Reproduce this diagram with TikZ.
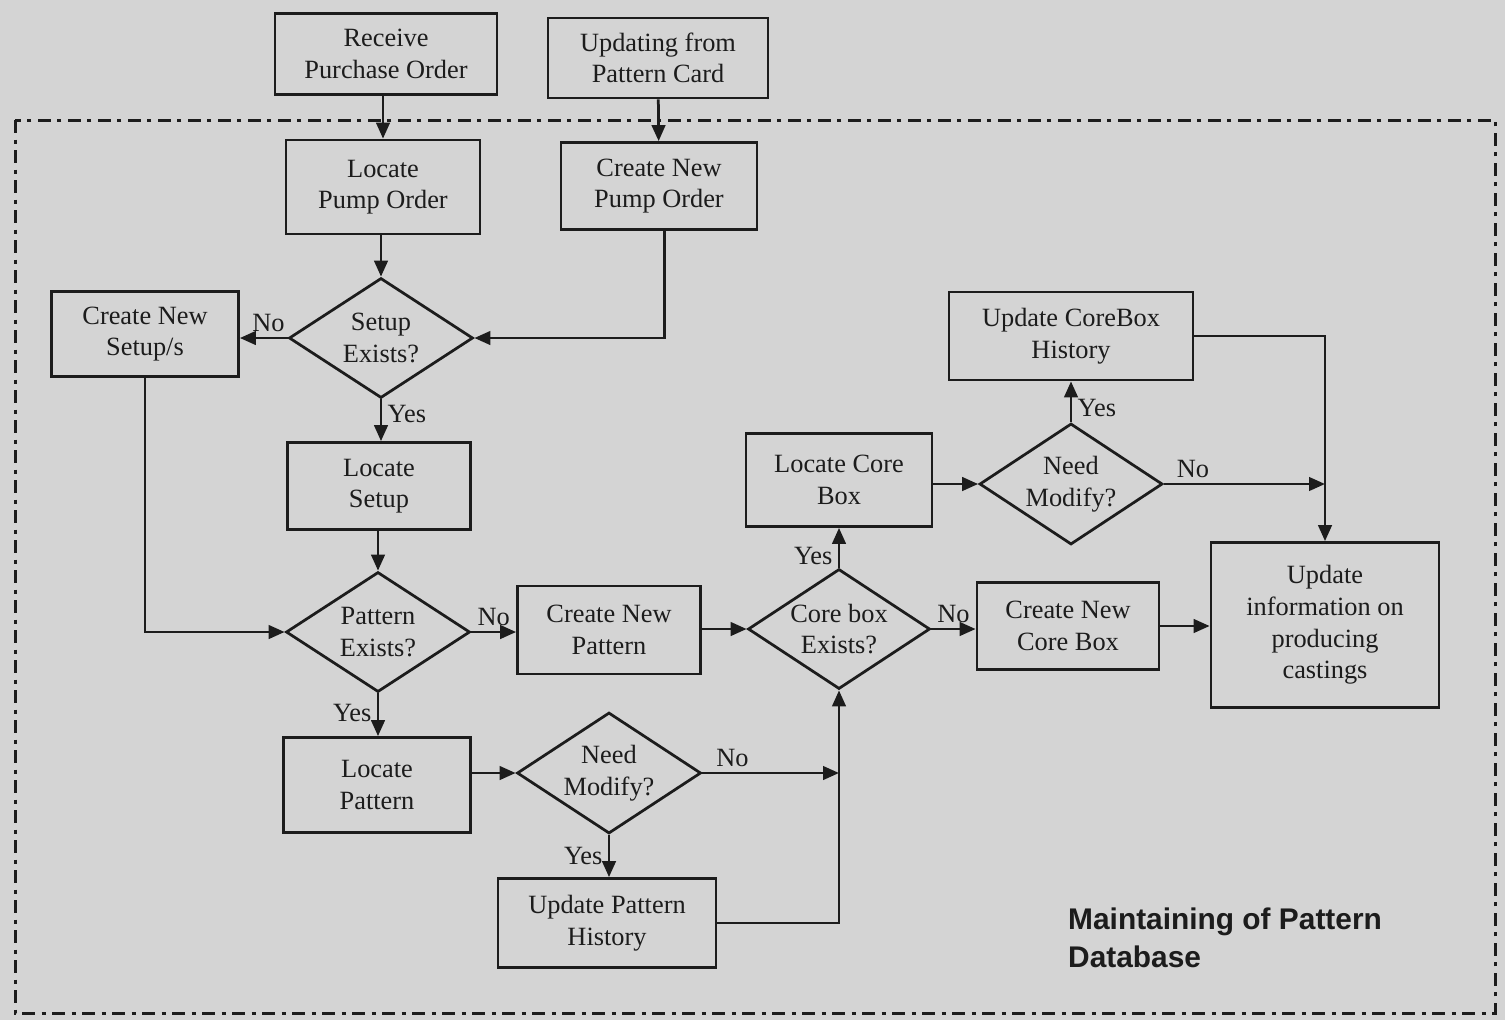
\documentclass[tikz,border=0pt]{standalone}
\usepackage{fontspec}
\setmainfont{Liberation Serif}
\newfontfamily\titlefont{Liberation Sans}
\usetikzlibrary{shapes.geometric,arrows.meta,positioning,calc}

\definecolor{paper}{RGB}{212,212,212}
\definecolor{ink}{RGB}{28,28,28}

\begin{document}
\begin{tikzpicture}[
    x=0.2mm, y=-0.2mm,
    font=\fontsize{15}{18}\selectfont,
    box/.style={rectangle, draw=ink, text=ink, line width=0.55mm, align=center, inner sep=2pt},
    decision/.style={diamond, draw=ink, text=ink, line width=0.55mm, align=center, inner sep=-3pt, shape aspect=1.5},
    arrow/.style={-{Triangle[length=3.2mm,width=2.7mm]}, draw=ink, line width=0.55mm},
    answer/.style={text=ink, inner sep=3pt},
    frame/.style={draw=ink, line width=0.6mm, dash pattern=on 2.6mm off 1.3mm on 0.8mm off 1.3mm}
]

% Paper
\fill[paper] (0,0) rectangle (1505,1020);

% Database boundary
\draw[frame] (15,120) rectangle (1495,1013);

% Inputs
\node[box, minimum width=44.4mm, minimum height=16.2mm] (recv) at (386,54) {Receive\\Purchase Order};
\node[box, minimum width=44mm, minimum height=16mm] (upd) at (658,58) {Updating from\\Pattern Card};

% Pump order
\node[box, minimum width=38.8mm, minimum height=18.8mm] (locpump) at (383,187) {Locate\\Pump Order};
\node[box, minimum width=39.2mm, minimum height=17.4mm] (newpump) at (659,186) {Create New\\Pump Order};

% Setup
\node[decision, minimum width=36.8mm, minimum height=24mm] (setupq) at (381,338) {Setup\\Exists?};
\node[box, minimum width=37.4mm, minimum height=17mm] (newsetup) at (145,334) {Create New\\Setup/s};
\node[box, minimum width=36.6mm, minimum height=17.4mm] (locsetup) at (379,486) {Locate\\Setup};

% Pattern
\node[decision, minimum width=36.8mm, minimum height=24mm] (patq) at (378,632) {Pattern\\Exists?};
\node[box, minimum width=36.6mm, minimum height=17.6mm] (newpat) at (609,630) {Create New\\Pattern};
\node[box, minimum width=37.4mm, minimum height=19mm] (locpat) at (377,785) {Locate\\Pattern};
\node[decision, minimum width=36.8mm, minimum height=24.2mm] (needp) at (609,773) {Need\\Modify?};
\node[box, minimum width=43.6mm, minimum height=17.8mm] (updpat) at (607,923) {Update Pattern\\History};

% Core box
\node[decision, minimum width=36.4mm, minimum height=24mm] (coreq) at (839,629) {Core box\\Exists?};
\node[box, minimum width=37.2mm, minimum height=18.6mm] (loccore) at (839,480) {Locate Core\\Box};
\node[decision, minimum width=36.6mm, minimum height=24.2mm] (needc) at (1071,484) {Need\\Modify?};
\node[box, minimum width=48.8mm, minimum height=17.6mm] (updcore) at (1071,336) {Update CoreBox\\History};
\node[box, minimum width=36.4mm, minimum height=17.4mm] (newcore) at (1068,626) {Create New\\Core Box};

% Output
\node[box, minimum width=45.6mm, minimum height=33mm] (updinfo) at (1325,625) {Update\\information on\\producing\\castings};

% Title
\node[anchor=west, align=left, text=ink, font=\titlefont\bfseries\fontsize{17}{21.5}\selectfont] (title) at (1062,938) {Maintaining of Pattern\\Database};

% Connections
\draw[arrow] (recv.south -| locpump.north) -- (locpump.north);
\draw[arrow] (upd) -- (newpump);
\draw[arrow] (locpump.south -| setupq.north) -- (setupq.north);
\draw[arrow] ([xshift=3pt]newpump.south) |- (setupq.east);
\draw[arrow] (setupq.west) -- node[answer, above, pos=0.4] {No} (setupq.west -| newsetup.east);
\draw[arrow] (setupq.south) -- node[answer, right, pos=0.35] {Yes} (setupq.south |- locsetup.north);
\draw[arrow] (newsetup.south) |- (patq.west);
\draw[arrow] (locsetup.south -| patq.north) -- (patq.north);
\draw[arrow] (patq.east) -- node[answer, above] {No} (patq.east -| newpat.west);
\draw[arrow] (patq.south) -- node[answer, left, pos=0.45] {Yes} (patq.south |- locpat.north);
\draw[arrow] (newpat.east |- coreq.west) -- (coreq.west);
\draw[arrow] (coreq.north) -- node[answer, left, pos=0.3] {Yes} (loccore.south);
\draw[arrow] (coreq.east) -- node[answer, above] {No} (coreq.east -| newcore.west);
\draw[arrow] (loccore.east |- needc.west) -- (needc.west);
\draw[arrow] (needc.north) -- node[answer, right, pos=0.35] {Yes} (updcore.south);
\draw[arrow] (needc.east) -- node[answer, above, pos=0.18] {No} (needc.east -| updinfo.north);
\draw[arrow] (updcore.east) -| (updinfo.north);
\draw[arrow] (newcore.east) -- (newcore.east -| updinfo.west);
\draw[arrow] (locpat.east |- needp.west) -- (needp.west);
\draw[arrow] (needp.east) -- node[answer, above, pos=0.22] {No} (needp.east -| coreq.south);
\draw[arrow] (needp.south) -- node[answer, left, pos=0.5] {Yes} (needp.south |- updpat.north);
\draw[arrow] (updpat.east) -| (coreq.south);

\end{tikzpicture}
\end{document}
